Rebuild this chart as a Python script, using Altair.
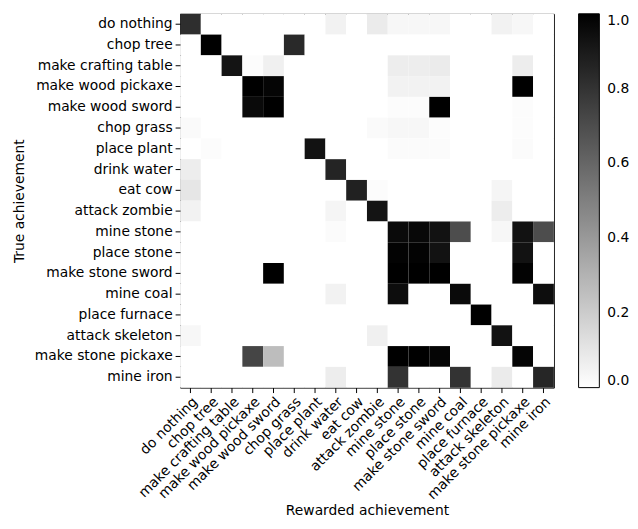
import altair as alt
import pandas as pd

achievements = [
    "do nothing", "chop tree", "make crafting table", "make wood pickaxe",
    "make wood sword", "chop grass", "place plant", "drink water", "eat cow",
    "attack zombie", "mine stone", "place stone", "make stone sword",
    "mine coal", "place furnace", "attack skeleton", "make stone pickaxe",
    "mine iron",
]

# rows = true achievement, columns = rewarded achievement (same order)
row_do_nothing         = [0.82, 0, 0, 0, 0, 0, 0, 0.05, 0, 0.08, 0.03, 0.03, 0.03, 0, 0, 0.05, 0.03, 0]
row_chop_tree          = [0, 1.0, 0, 0, 0, 0.84, 0, 0, 0, 0, 0, 0, 0, 0, 0, 0, 0, 0]
row_make_crafting      = [0, 0, 0.92, 0.01, 0.06, 0, 0, 0, 0, 0, 0.07, 0.07, 0.08, 0, 0, 0, 0.07, 0]
row_make_wood_pickaxe  = [0, 0, 0, 1.0, 0.98, 0, 0, 0, 0, 0, 0.05, 0.05, 0.05, 0, 0, 0, 1.0, 0]
row_make_wood_sword    = [0, 0, 0, 0.96, 1.0, 0, 0, 0, 0, 0, 0.01, 0.01, 1.0, 0, 0, 0, 0.01, 0]
row_chop_grass         = [0.02, 0, 0, 0, 0, 0, 0, 0, 0, 0.02, 0.03, 0.03, 0.01, 0, 0, 0, 0.01, 0]
row_place_plant        = [0, 0.01, 0, 0, 0, 0, 0.93, 0, 0, 0, 0.015, 0.015, 0.015, 0, 0, 0, 0.015, 0]
row_drink_water        = [0.07, 0, 0, 0, 0, 0, 0, 0.86, 0, 0, 0, 0, 0, 0, 0, 0, 0, 0]
row_eat_cow            = [0.1, 0, 0, 0, 0, 0, 0, 0, 0.87, 0.01, 0, 0, 0, 0, 0, 0.04, 0, 0]
row_attack_zombie      = [0.05, 0, 0, 0, 0, 0, 0, 0.04, 0, 0.92, 0, 0, 0, 0, 0, 0.07, 0, 0]
row_mine_stone         = [0, 0, 0, 0, 0, 0, 0, 0.015, 0, 0, 0.96, 0.97, 0.93, 0.7, 0, 0.03, 0.93, 0.7]
row_place_stone        = [0, 0, 0, 0, 0, 0, 0, 0, 0, 0, 0.99, 0.99, 0.93, 0, 0, 0, 0.93, 0]
row_make_stone_sword   = [0, 0, 0, 0, 1.0, 0, 0, 0, 0, 0, 1.0, 1.0, 1.0, 0, 0, 0, 0.99, 0]
row_mine_coal          = [0, 0, 0, 0, 0, 0, 0, 0.05, 0, 0, 0.95, 0, 0, 0.96, 0, 0, 0, 0.95]
row_place_furnace      = [0, 0, 0, 0, 0, 0, 0, 0, 0, 0, 0, 0, 0, 0, 1.0, 0, 0, 0]
row_attack_skeleton    = [0.03, 0, 0, 0, 0, 0, 0, 0, 0, 0.06, 0, 0, 0, 0, 0, 0.93, 0, 0]
row_make_stone_pickaxe = [0, 0, 0, 0.73, 0.26, 0, 0, 0, 0, 0, 1.0, 1.0, 0.98, 0, 0, 0, 0.98, 0]
row_mine_iron          = [0, 0, 0, 0, 0, 0, 0, 0.07, 0, 0, 0.8, 0, 0, 0.8, 0, 0.08, 0, 0.85]

rows = [
    row_do_nothing, row_chop_tree, row_make_crafting, row_make_wood_pickaxe,
    row_make_wood_sword, row_chop_grass, row_place_plant, row_drink_water,
    row_eat_cow, row_attack_zombie, row_mine_stone, row_place_stone,
    row_make_stone_sword, row_mine_coal, row_place_furnace,
    row_attack_skeleton, row_make_stone_pickaxe, row_mine_iron,
]

colorbar_ticks = [0.0, 0.2, 0.4, 0.6, 0.8, 1.0]

records = []
for true_name, row in zip(achievements, rows):
    for rew_name, v in zip(achievements, row):
        records.append({"true": true_name, "rewarded": rew_name, "value": v})
df = pd.DataFrame(records)

FONT = "DejaVu Sans"
FS = 14.0

chart = alt.Chart(df).mark_rect(strokeWidth=0).encode(
    x=alt.X("rewarded:N", sort=achievements, title="Rewarded achievement",
            axis=alt.Axis(labelAngle=-45, labelAlign="right", labelBaseline="top",
                          labelPadding=2, titlePadding=2)),
    y=alt.Y("true:N", sort=achievements, title="True achievement",
            axis=alt.Axis(titlePadding=8, labelPadding=3)),
    color=alt.Color("value:Q",
                    scale=alt.Scale(domain=[0, 1], range=["#ffffff", "#000000"],
                                    interpolate="rgb"),
                    legend=alt.Legend(title=None, values=colorbar_ticks, format=".1f",
                                      orient="right",
                                      gradientLength=378, gradientThickness=21,
                                      gradientStrokeColor="black", gradientStrokeWidth=1,
                                      offset=25, labelOffset=8, labelBaseline="middle",
                                      labelFont=FONT, labelFontSize=FS, labelColor="black")),
).properties(
    width=378, height=378,
    padding={"left": 4, "top": 3, "right": 0, "bottom": 0},
).configure_view(
    stroke="black", strokeWidth=1
).configure_axis(
    grid=False, domain=False, ticks=True, tickColor="black", tickSize=5, tickWidth=1,
    labelFont=FONT, labelFontSize=FS, labelColor="black",
    titleFont=FONT, titleFontSize=FS, titleFontWeight="normal", titleColor="black",
)

chart.save("out.html", embed_options={"renderer": "svg", "actions": False})
